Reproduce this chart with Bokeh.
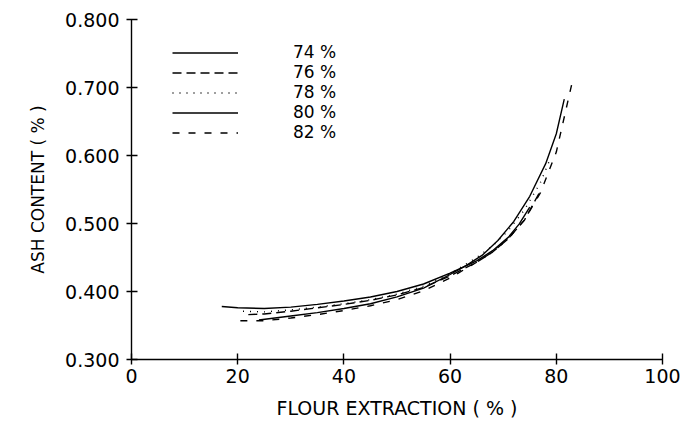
from bokeh.plotting import figure
from bokeh.models import FixedTicker, NumeralTickFormatter, Legend, LegendItem, Range1d
from bokeh.embed import file_html
from bokeh.resources import INLINE

# Data
x74 = [17, 20, 25, 30, 35, 40, 45, 50, 55, 60, 65, 68, 71, 73, 75]
y74 = [0.378, 0.376, 0.375, 0.377, 0.381, 0.386, 0.392, 0.400, 0.411, 0.427, 0.445, 0.460, 0.480, 0.499, 0.524]

x76 = [22, 25, 30, 35, 40, 45, 50, 55, 60, 65, 68, 71, 74, 77]
y76 = [0.366, 0.367, 0.371, 0.376, 0.381, 0.387, 0.395, 0.406, 0.423, 0.443, 0.458, 0.478, 0.505, 0.548]

x78 = [21, 25, 30, 35, 40, 45, 50, 55, 60, 65, 68, 71, 74, 77, 79]
y78 = [0.371, 0.370, 0.373, 0.377, 0.382, 0.388, 0.396, 0.408, 0.426, 0.450, 0.467, 0.490, 0.520, 0.560, 0.598]

x80 = [24, 30, 35, 40, 45, 50, 55, 60, 63, 66, 69, 72, 75, 78, 80, 81.5]
y80 = [0.358, 0.364, 0.369, 0.375, 0.382, 0.392, 0.405, 0.425, 0.438, 0.453, 0.475, 0.503, 0.540, 0.588, 0.632, 0.683]

x82 = [20.5, 25, 30, 35, 40, 45, 50, 55, 60, 65, 68, 71, 74, 77, 80, 83]
y82 = [0.357, 0.357, 0.361, 0.366, 0.372, 0.379, 0.388, 0.401, 0.420, 0.443, 0.458, 0.478, 0.505, 0.545, 0.605, 0.708]

labels = ["74 %", "76 %", "78 %", "80 %", "82 %"]
x_ticks = [0, 20, 40, 60, 80, 100]
y_ticks = [0.3, 0.4, 0.5, 0.6, 0.7, 0.8]

FONT = "DejaVu Sans"

p = figure(width=690, height=430, output_backend="svg", toolbar_location=None,
           x_range=Range1d(0, 100), y_range=Range1d(0.3, 0.8),
           min_border_left=131, min_border_right=28, min_border_top=19, min_border_bottom=71)
p.outline_line_color = None
p.xgrid.visible = False
p.ygrid.visible = False
p.background_fill_color = "white"
p.border_fill_color = "white"

series = [
    (x74, y74, "solid"),
    (x76, y76, "9 5"),
    (x78, y78, "1 6"),
    (x80, y80, "solid"),
    (x82, y82, "7 9"),
]
renderers = []
for xs, ys, dash in series:
    r = p.line(xs, ys, line_color="black", line_width=1.4, line_dash=dash)
    renderers.append(r)

legend = Legend(items=[LegendItem(label=l, renderers=[r]) for l, r in zip(labels, renderers)],
                location=(41, 217), padding=0, margin=0, spacing=0,
                glyph_width=66, glyph_height=19, label_height=19, label_standoff=55,
                label_text_font=FONT, label_text_font_size="17px", label_text_color="black",
                border_line_color=None, background_fill_alpha=0)
p.add_layout(legend)

for ax in (p.xaxis, p.yaxis):
    ax.axis_line_color = "black"
    ax.axis_line_width = 1.4
    ax.major_tick_line_color = "black"
    ax.major_tick_line_width = 1.4
    ax.major_tick_in = 6
    ax.major_tick_out = 5
    ax.minor_tick_line_color = None
    ax.major_label_text_font = FONT
    ax.major_label_text_font_size = "19px"
    ax.major_label_text_color = "black"
    ax.axis_label_text_font = FONT
    ax.axis_label_text_font_style = "normal"
    ax.axis_label_text_color = "black"

p.xaxis.axis_label_text_font_size = "19px"
p.yaxis.axis_label_text_font_size = "17px"
p.xaxis.ticker = FixedTicker(ticks=x_ticks)
p.yaxis.ticker = FixedTicker(ticks=y_ticks)
p.yaxis.formatter = NumeralTickFormatter(format="0.000")
p.xaxis.major_label_standoff = 4
p.yaxis.major_label_standoff = 7
p.xaxis.axis_label = "FLOUR EXTRACTION ( % )"
p.yaxis.axis_label = "ASH CONTENT ( % )"
p.xaxis.axis_label_standoff = 11
p.yaxis.axis_label_standoff = 14

open("out.html", "w").write(file_html(p, INLINE))
